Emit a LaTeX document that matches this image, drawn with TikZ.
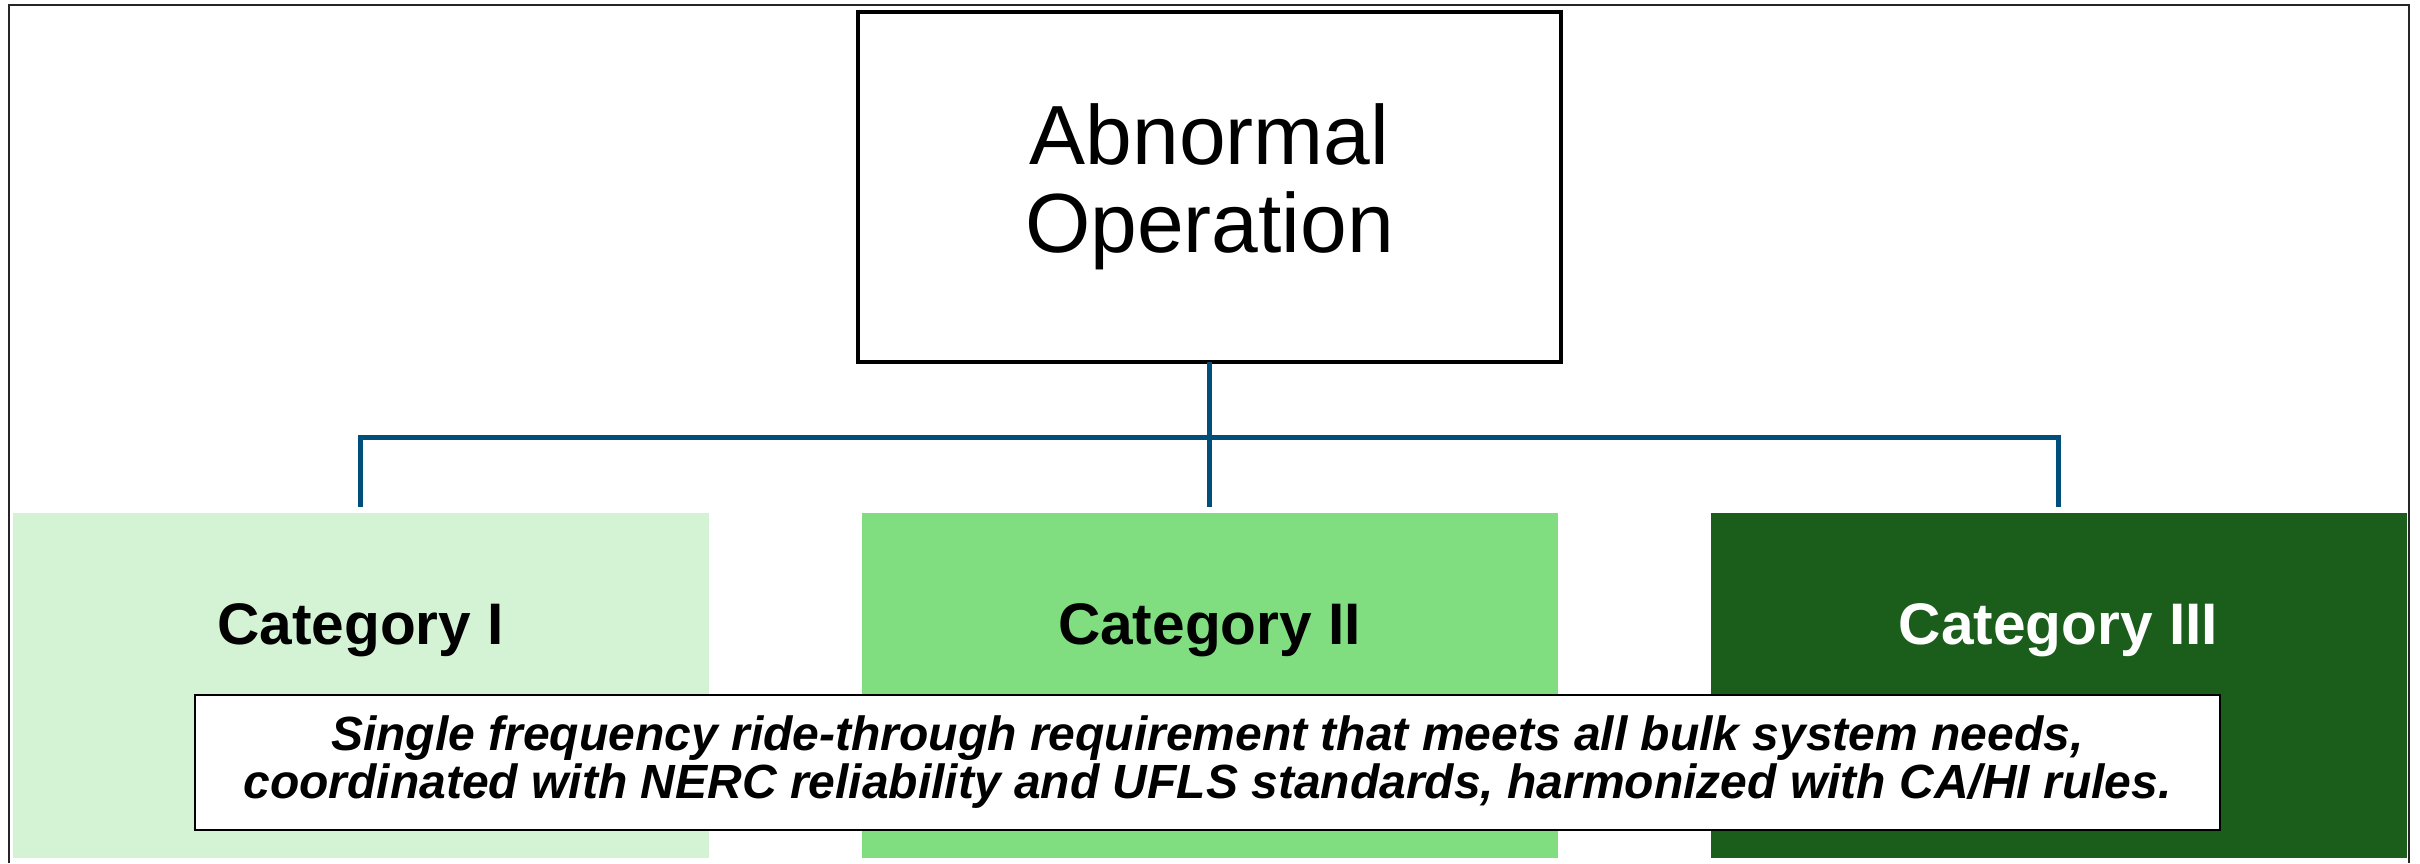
\documentclass[tikz,border=0pt]{standalone}
\usepackage{fontspec}
\setmainfont{Liberation Sans}
\usepackage{tikz}
\usetikzlibrary{positioning}
\definecolor{catone}{RGB}{212,243,212}
\definecolor{cattwo}{RGB}{128,222,128}
\definecolor{catthree}{RGB}{27,94,27}
\definecolor{linkblue}{RGB}{0,78,122}

\begin{document}
\begin{tikzpicture}[
    x=0.5pt, y=-0.5pt,
    topbox/.style={
      rectangle, draw=black, line width=2.2pt, fill=white,
      minimum width=351.5pt, minimum height=175pt,
      inner sep=0pt, outer sep=0pt,
      align=center, font=\fontsize{42}{44}\selectfont
    },
    catbox/.style={
      rectangle, minimum width=348pt, minimum height=172.5pt,
      inner sep=0pt, outer sep=0pt
    },
    catlabel/.style={
      inner sep=0pt, font=\fontsize{29.3}{30}\selectfont\bfseries
    },
    notebox/.style={
      rectangle, draw=black, line width=1.1pt, fill=white,
      minimum width=1012.5pt, minimum height=67.5pt,
      inner sep=0pt, align=center,
      font=\fontsize{24}{24}\selectfont\bfseries\itshape
    },
    conn/.style={draw=linkblue, line width=2.5pt}
  ]
  \useasboundingbox (0,0) rectangle (2420,863);

  % Frame
  \draw[black!85, line width=0.8pt] (9,863) -- (9,5) -- (2409,5) -- (2409,863);

  % Root
  \node[topbox] (top) at (1209.5,187) {Abnormal\\Operation};

  % Categories
  \node[catbox, fill=cattwo, below=75.5pt of top] (c2) {};
  \node[catbox, fill=catone, left=76.5pt of c2] (c1) {};
  \node[catbox, fill=catthree, right=76.5pt of c2] (c3) {};

  \node[catlabel, below=45.3pt of c1.north] (l1) {Category I};
  \node[catlabel, below=45.3pt of c2.north] (l2) {Category II};
  \node[catlabel, text=white, below=45.3pt of c3.north] (l3) {Category III};

  % Connectors
  \coordinate (bar) at (1209.5,437);
  \draw[conn] (top.south) -- (bar);
  \draw[conn] ([yshift=3pt]c1.north) |- (bar) -| ([yshift=3pt]c3.north);
  \draw[conn] (bar) -- ([yshift=3pt]c2.north);

  % Common requirement
  \node[notebox] (note) at (1207.5,762.5)
    {Single frequency ride-through requirement that meets all bulk system needs,\\
     coordinated with NERC reliability and UFLS standards, harmonized with CA/HI rules.};
\end{tikzpicture}
\end{document}
